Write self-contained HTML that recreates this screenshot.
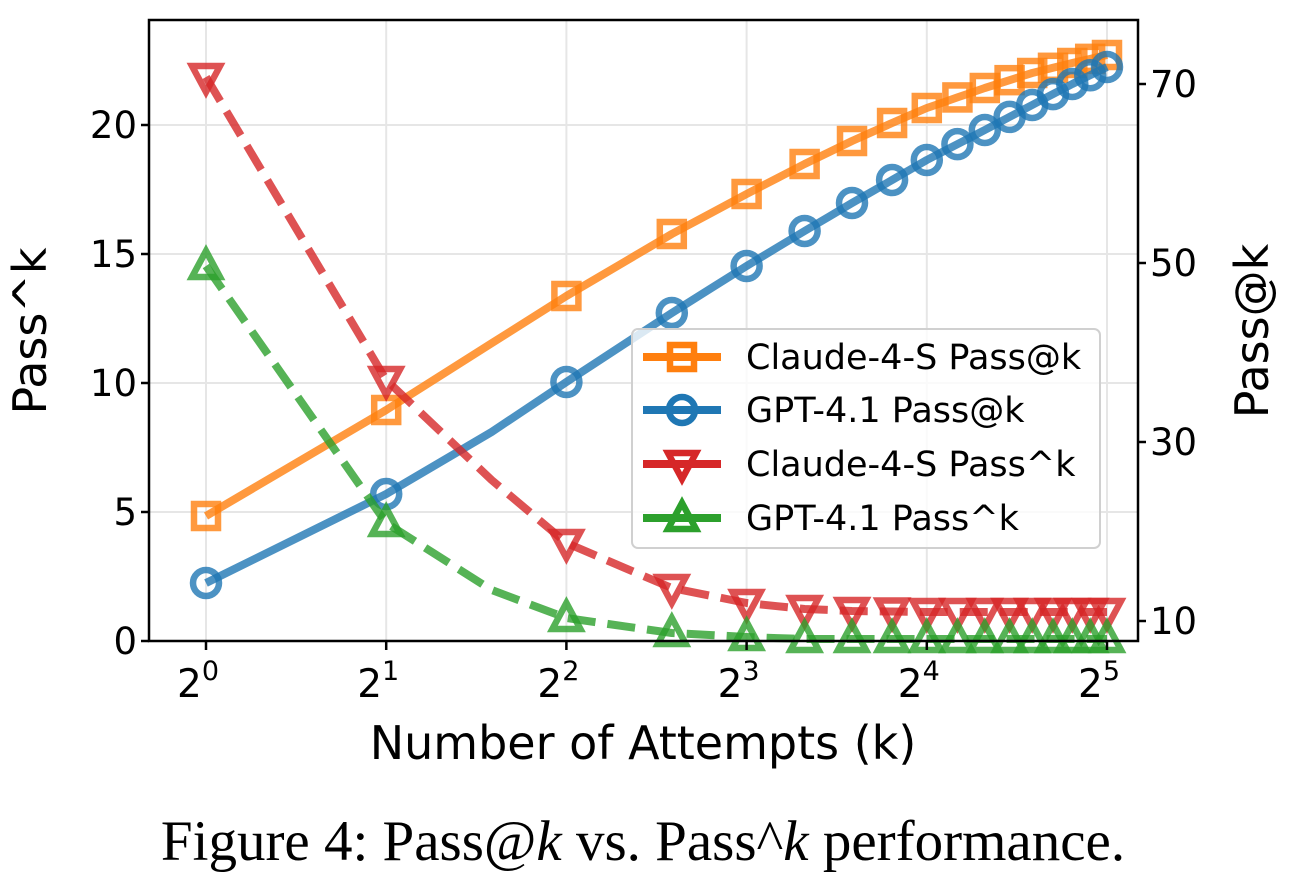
<!DOCTYPE html>
<html><head><meta charset="utf-8"><style>
html,body{margin:0;padding:0;background:#fff;}
svg{display:block;}
text{font-family:"DejaVu Sans","Liberation Sans",sans-serif;}
</style></head><body>
<svg id="s" width="1296" height="879" xmlns="http://www.w3.org/2000/svg"></svg>
<script>
const s=document.getElementById('s');
let h='';
const L=149,R=1138,T=20,B=641;
const X=k=>206+180.2*Math.log2(k);
for(let i=0;i<=5;i++){const x=206+180.2*i;h+=`<line x1="${x}" y1="${T}" x2="${x}" y2="${B}" stroke="#e6e6e6" stroke-width="2"/>`;}
[125,254,383,512].forEach(y=>h+=`<line x1="${L}" y1="${y}" x2="${R}" y2="${y}" stroke="#e6e6e6" stroke-width="2"/>`);
function interp(kn,k){const lk=Math.log2(k);for(let i=0;i<kn.length-1;i++){const a=Math.log2(kn[i][0]),b=Math.log2(kn[i+1][0]);if(lk>=a&&lk<=b){const t=(lk-a)/(b-a);return kn[i][1]+t*(kn[i+1][1]-kn[i][1]);}}return kn[kn.length-1][1];}
const S=[
 {c:'#ff7f0e',m:'sq',d:false,kn:[[1,516],[2,410],[4,296],[6,234],[8,194],[10,164],[12,141],[14,123],[16,108],[20,88],[24,73],[28,63],[32,55]]},
 {c:'#1f77b4',m:'ci',d:false,kn:[[1,583],[2,494],[3,432],[4,382],[6,313],[8,266],[10,231],[12,203],[14,180],[16,160],[20,130],[24,105],[28,84],[32,67]]},
 {c:'#d62728',m:'dn',d:true,kn:[[1,77],[2,380],[3,480],[4,543],[6,588],[8,603],[10,609],[12,611],[16,612],[32,612]]},
 {c:'#2ca02c',m:'up',d:true,kn:[[1,266],[2,523],[3,590],[4,618],[6,633],[8,637],[10,639],[32,639]]}
];
function marker(m,x,y,c,op){
 const a=`fill="none" stroke="${c}" stroke-width="6.5" ${op?'':'stroke-opacity="0.8"'}`;
 if(m=='sq')return `<rect x="${x-12}" y="${y-12}" width="24" height="24" ${a}/>`;
 if(m=='ci')return `<circle cx="${x}" cy="${y}" r="13" ${a}/>`;
 if(m=='dn')return `<polygon points="${x-14},${y-11} ${x+14},${y-11} ${x},${y+15}" ${a}/>`;
 return `<polygon points="${x-14},${y+11} ${x+14},${y+11} ${x},${y-15}" ${a}/>`;
}
const mk=[1,2,4,6,8,10,12,14,16,18,20,22,24,26,28,30,32];
S.forEach(sr=>{
 let pts=[];for(let k=1;k<=32;k++)pts.push(X(k).toFixed(1)+','+interp(sr.kn,k).toFixed(1));
 h+=`<polyline points="${pts.join(' ')}" fill="none" stroke="${sr.c}" stroke-opacity="0.8" stroke-width="8" ${sr.d?'stroke-dasharray="28,12"':''} stroke-linejoin="round"/>`;
 mk.forEach(k=>h+=marker(sr.m,X(k),interp(sr.kn,k),sr.c));
});
h+=`<rect x="${L}" y="${T}" width="${R-L}" height="${B-T}" fill="none" stroke="#000" stroke-width="2.5"/>`;
[[0,641],[5,512],[10,383],[15,254],[20,125]].forEach(([v,y])=>{h+=`<line x1="${L-8}" y1="${y}" x2="${L}" y2="${y}" stroke="#000" stroke-width="2.5"/><text x="${L-12}" y="${y+13}" font-size="37" text-anchor="end">${v}</text>`;});
[[10,621],[30,442],[50,263],[70,84]].forEach(([v,y])=>{h+=`<line x1="${R}" y1="${y}" x2="${R+8}" y2="${y}" stroke="#000" stroke-width="2.5"/><text x="${R+12}" y="${y+13}" font-size="37">${v}</text>`;});
for(let i=0;i<=5;i++){const x=206+180.2*i;h+=`<line x1="${x}" y1="${B}" x2="${x}" y2="${B+9}" stroke="#000" stroke-width="2.5"/><text x="${x-8}" y="${B+56}" font-size="39" text-anchor="middle">2<tspan dy="-17" font-size="27">${i}</tspan></text>`;}
h+=`<text x="643" y="759" font-size="46" text-anchor="middle">Number of Attempts (k)</text>`;
h+=`<text transform="translate(46,331) rotate(-90)" font-size="46" text-anchor="middle">Pass^k</text>`;
h+=`<text transform="translate(1268,331) rotate(-90)" font-size="46" text-anchor="middle">Pass@k</text>`;
h+=`<rect x="632" y="329" width="468" height="219" rx="6" fill="#fff" fill-opacity="0.8" stroke="#d0d0d0" stroke-width="2"/>`;
const names=['Claude-4-S Pass@k','GPT-4.1 Pass@k','Claude-4-S Pass^k','GPT-4.1 Pass^k'];
[357,410,464,518].forEach((y,i)=>{const c=S[i].c;h+=`<line x1="643" y1="${y}" x2="721" y2="${y}" stroke="${c}" stroke-width="8"/>`+marker(S[i].m,682,y,c,true)+`<text x="746" y="${y+12}" font-size="35">${names[i]}</text>`;});
h+=`<text x="643" y="860" font-size="57" text-anchor="middle" style="font-family:'Liberation Serif',serif">Figure 4: Pass@<tspan font-style="italic">k</tspan> vs. Pass^<tspan font-style="italic">k</tspan> performance.</text>`;
s.innerHTML=h;
</script>
</body></html>
